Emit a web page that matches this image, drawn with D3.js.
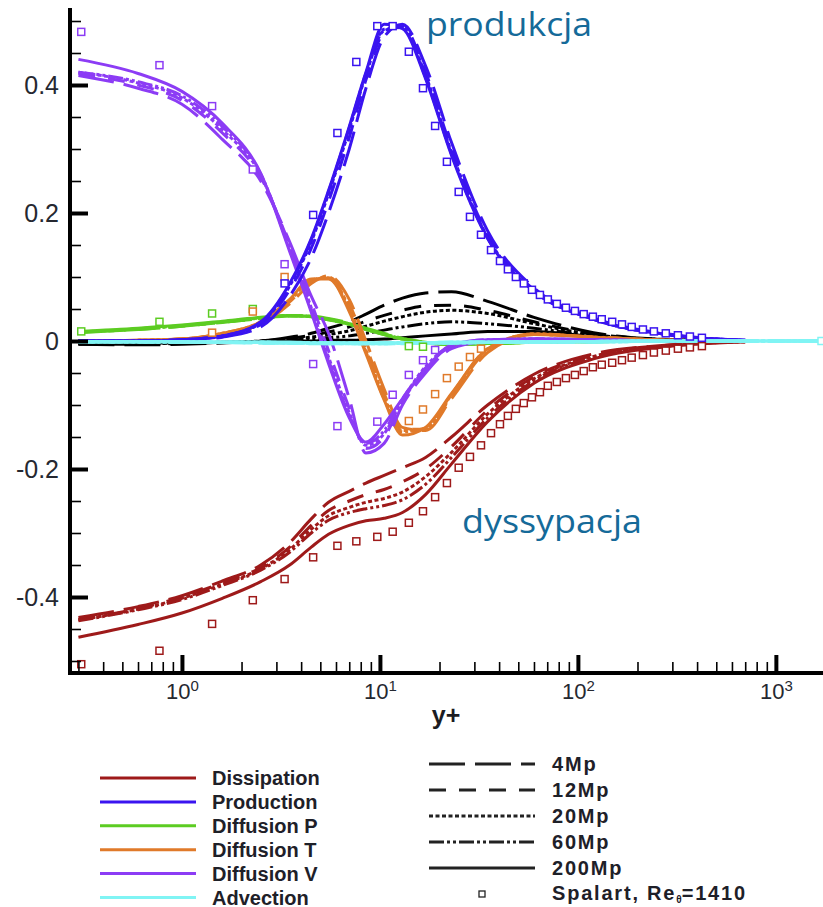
<!DOCTYPE html>
<html>
<head>
<meta charset="utf-8">
<script src="https://cdn.jsdelivr.net/npm/d3@7"></script>
<style>
  body { margin: 0; background: #fff; }
  svg { display: block; }
</style>
</head>
<body>
<div id="chart"></div>
<script>
// model curves are sampled on this y+ grid
var YPLUS = [0.3, 0.6, 1, 1.6, 2.5, 3.5, 4.5, 5.5, 7, 8.5, 10.5, 13, 17, 23, 35, 60, 120, 300, 700];
var ADV_YPLUS = [0.3, 0.6, 1, 1.6, 2.5, 3.5, 4.5, 5.5, 7, 8.5, 10.5, 13, 17, 23, 35, 60, 120, 300, 700, 1700];
var RESOLUTIONS = ["4Mp", "12Mp", "20Mp", "60Mp", "200Mp"];

// one row per resolution, same order as RESOLUTIONS
var DISSIPATION = [
  [-0.432, -0.415, -0.398, -0.375, -0.35, -0.315, -0.278, -0.252, -0.235, -0.222, -0.21, -0.198, -0.182, -0.15, -0.1, -0.052, -0.02, -0.006, -0.001],
  [-0.435, -0.418, -0.4, -0.378, -0.354, -0.322, -0.288, -0.265, -0.25, -0.24, -0.232, -0.22, -0.2, -0.165, -0.108, -0.056, -0.022, -0.006, -0.001],
  [-0.436, -0.419, -0.402, -0.38, -0.356, -0.326, -0.294, -0.273, -0.26, -0.252, -0.246, -0.236, -0.212, -0.174, -0.114, -0.059, -0.024, -0.007, -0.001],
  [-0.437, -0.42, -0.404, -0.382, -0.358, -0.33, -0.3, -0.28, -0.268, -0.262, -0.257, -0.248, -0.224, -0.182, -0.12, -0.062, -0.025, -0.007, -0.001],
  [-0.463, -0.443, -0.425, -0.402, -0.376, -0.35, -0.322, -0.302, -0.288, -0.281, -0.277, -0.268, -0.24, -0.192, -0.126, -0.066, -0.028, -0.008, -0.001]
];
var PRODUCTION = [
  [0, 0, 0.001, 0.006, 0.022, 0.07, 0.13, 0.2, 0.3, 0.395, 0.475, 0.495, 0.43, 0.31, 0.172, 0.083, 0.036, 0.01, 0.001],
  [0, 0, 0.002, 0.007, 0.026, 0.08, 0.145, 0.218, 0.318, 0.408, 0.482, 0.492, 0.42, 0.3, 0.166, 0.08, 0.035, 0.009, 0.001],
  [0, 0, 0.002, 0.008, 0.028, 0.086, 0.155, 0.23, 0.33, 0.416, 0.485, 0.49, 0.415, 0.295, 0.162, 0.079, 0.034, 0.009, 0.001],
  [0, 0, 0.002, 0.008, 0.029, 0.088, 0.158, 0.233, 0.333, 0.418, 0.487, 0.49, 0.412, 0.292, 0.161, 0.078, 0.034, 0.009, 0.001],
  [0, 0, 0.002, 0.008, 0.03, 0.09, 0.16, 0.235, 0.335, 0.42, 0.495, 0.488, 0.41, 0.29, 0.16, 0.078, 0.034, 0.009, 0.001]
];
var DIFFUSION_P = [
  [0.013, 0.018, 0.023, 0.029, 0.035, 0.039, 0.039, 0.035, 0.028, 0.02, 0.012, 0.004, -0.002, -0.005, -0.004, -0.002, -0.001, 0, 0],
  [0.014, 0.018, 0.023, 0.029, 0.035, 0.039, 0.038, 0.034, 0.027, 0.019, 0.011, 0.004, -0.002, -0.005, -0.004, -0.002, -0.001, 0, 0],
  [0.014, 0.019, 0.024, 0.03, 0.036, 0.04, 0.038, 0.034, 0.027, 0.019, 0.011, 0.003, -0.003, -0.005, -0.004, -0.002, -0.001, 0, 0],
  [0.014, 0.019, 0.024, 0.03, 0.036, 0.04, 0.038, 0.033, 0.026, 0.018, 0.01, 0.003, -0.003, -0.005, -0.004, -0.002, -0.001, 0, 0],
  [0.015, 0.02, 0.025, 0.031, 0.037, 0.04, 0.038, 0.033, 0.026, 0.018, 0.01, 0.003, -0.003, -0.005, -0.004, -0.002, -0.001, 0, 0]
];
var DIFFUSION_T = [
  [0, 0.001, 0.003, 0.01, 0.026, 0.058, 0.09, 0.102, 0.065, 0.0, -0.075, -0.135, -0.14, -0.09, -0.018, 0.01, 0.006, 0.001, 0],
  [0, 0.001, 0.003, 0.011, 0.028, 0.061, 0.093, 0.1, 0.058, -0.008, -0.082, -0.138, -0.138, -0.086, -0.015, 0.01, 0.006, 0.001, 0],
  [0, 0.001, 0.003, 0.011, 0.029, 0.063, 0.095, 0.099, 0.052, -0.014, -0.087, -0.14, -0.137, -0.084, -0.013, 0.011, 0.006, 0.001, 0],
  [0, 0.001, 0.003, 0.012, 0.03, 0.064, 0.096, 0.098, 0.049, -0.017, -0.09, -0.142, -0.136, -0.083, -0.012, 0.011, 0.006, 0.001, 0],
  [0, 0.001, 0.003, 0.012, 0.03, 0.065, 0.097, 0.097, 0.046, -0.02, -0.092, -0.147, -0.135, -0.082, -0.012, 0.011, 0.006, 0.001, 0]
];
var DIFFUSION_V = [
  [0.415, 0.395, 0.37, 0.315, 0.25, 0.155, 0.07, 0.012, -0.09, -0.175, -0.16, -0.1, -0.05, -0.012, 0, 0.003, 0.002, 0, 0],
  [0.418, 0.4, 0.376, 0.325, 0.256, 0.15, 0.06, -0.015, -0.105, -0.168, -0.15, -0.095, -0.042, -0.009, 0.001, 0.003, 0.002, 0, 0],
  [0.42, 0.403, 0.38, 0.33, 0.259, 0.146, 0.052, -0.025, -0.112, -0.163, -0.145, -0.092, -0.04, -0.008, 0.001, 0.003, 0.002, 0, 0],
  [0.42, 0.405, 0.383, 0.335, 0.261, 0.143, 0.048, -0.03, -0.116, -0.16, -0.14, -0.09, -0.044, -0.007, 0.002, 0.003, 0.002, 0, 0],
  [0.44, 0.418, 0.39, 0.34, 0.262, 0.14, 0.045, -0.035, -0.12, -0.158, -0.13, -0.09, -0.045, -0.006, 0.002, 0.003, 0.002, 0, 0]
];
var ADVECTION = [
  [-0.001, -0.001, -0.002, -0.002, -0.003, -0.003, -0.004, -0.004, -0.004, -0.004, -0.004, -0.004, -0.003, -0.003, -0.002, -0.002, -0.001, 0, 0, 0],
  [-0.001, -0.001, -0.002, -0.002, -0.003, -0.003, -0.003, -0.004, -0.004, -0.004, -0.004, -0.004, -0.003, -0.003, -0.002, -0.002, -0.001, 0, 0, 0],
  [-0.001, -0.001, -0.002, -0.002, -0.002, -0.003, -0.003, -0.003, -0.004, -0.004, -0.004, -0.003, -0.003, -0.003, -0.002, -0.001, -0.001, 0, 0, 0],
  [-0.001, -0.001, -0.001, -0.002, -0.002, -0.003, -0.003, -0.003, -0.003, -0.004, -0.003, -0.003, -0.003, -0.002, -0.002, -0.001, -0.001, 0, 0, 0],
  [-0.001, -0.001, -0.001, -0.002, -0.002, -0.002, -0.003, -0.003, -0.003, -0.003, -0.003, -0.003, -0.003, -0.002, -0.002, -0.001, -0.001, 0, 0, 0]
];
// black curves (not in the legend)
var BLACK_TERM = [
  [-0.005, -0.006, -0.005, -0.003, 0, 0.006, 0.012, 0.02, 0.03, 0.042, 0.056, 0.067, 0.075, 0.077, 0.062, 0.037, 0.013, 0.002, 0],
  [-0.005, -0.005, -0.004, -0.002, 0, 0.004, 0.009, 0.014, 0.022, 0.031, 0.04, 0.048, 0.055, 0.056, 0.048, 0.03, 0.011, 0.002, 0],
  [-0.004, -0.004, -0.003, -0.002, 0, 0.003, 0.006, 0.01, 0.016, 0.023, 0.031, 0.038, 0.045, 0.048, 0.043, 0.027, 0.01, 0.002, 0],
  [-0.004, -0.004, -0.003, -0.002, -0.001, 0.001, 0.003, 0.005, 0.008, 0.012, 0.017, 0.022, 0.027, 0.03, 0.027, 0.02, 0.008, 0.001, 0],
  [-0.003, -0.003, -0.003, -0.002, -0.001, 0, 0, 0.001, 0.001, 0.002, 0.003, 0.005, 0.008, 0.011, 0.015, 0.015, 0.007, 0.001, 0]
];

// Spalart DNS, Re_theta = 1410 (null = point not visible)
var SP_YPLUS = [0.31, 0.77, 1.42, 2.28, 3.3, 4.6, 6.1, 7.6, 9.7, 11.6, 14, 16.5, 19, 21.8, 25, 28.5, 32.4, 36.4, 40.4, 44.3, 48.6, 53.3, 58.6, 64.3, 70.5, 78.3, 87, 96.6, 107, 119, 132, 149, 167, 187, 213, 242, 278, 320, 368, 423, 1700];
var SP_DISSIPATION = [-0.505, -0.484, -0.442, -0.405, -0.372, -0.338, -0.32, -0.313, -0.306, -0.298, -0.284, -0.266, -0.244, -0.222, -0.198, -0.181, -0.163, -0.144, -0.13, -0.117, -0.106, -0.097, -0.088, -0.08, -0.07, -0.064, -0.058, -0.053, -0.047, -0.041, -0.037, -0.034, -0.03, -0.026, -0.022, -0.018, -0.015, -0.012, -0.01, -0.008, null];
var SP_PRODUCTION = [null, null, null, null, 0.09, 0.197, 0.325, 0.436, 0.492, 0.492, 0.452, 0.395, 0.336, 0.28, 0.233, 0.194, 0.166, 0.142, 0.125, 0.112, 0.1, 0.09, 0.08, 0.072, 0.065, 0.058, 0.052, 0.047, 0.042, 0.038, 0.034, 0.03, 0.026, 0.022, 0.018, 0.015, 0.012, 0.009, 0.007, 0.005, null];
var SP_DIFFUSION_P = [0.015, 0.03, 0.043, 0.05, null, null, null, null, null, null, -0.008, -0.009, null, null, null, null, null, null, null, null, null, null, null, null, null, null, null, null, null, null, null, null, null, null, null, null, null, null, null, null, null];
var SP_DIFFUSION_T = [null, null, 0.013, 0.046, 0.1, null, null, null, null, null, -0.125, -0.107, -0.083, -0.058, -0.04, -0.025, -0.012, null, null, null, null, null, null, null, null, null, null, null, null, null, null, null, null, null, null, null, null, null, null, null, null];
var SP_DIFFUSION_V = [0.483, 0.431, 0.367, 0.268, 0.12, -0.036, -0.133, null, -0.126, -0.084, -0.053, -0.03, -0.014, null, null, null, null, null, null, null, null, null, null, null, null, null, null, null, null, null, null, null, null, null, null, null, null, null, null, null, null];
var SP_ADVECTION = [null, null, null, null, null, null, null, null, null, null, null, null, null, null, null, null, null, null, null, null, null, null, null, null, null, null, null, null, null, null, null, null, null, null, null, null, null, null, null, null, 0];

var Y_TICKS = [-0.4, -0.2, 0, 0.2, 0.4];
var X_TICKS = [1, 10, 100, 1000];

// ---- styles
var width = 823, height = 907;
var dashes = { "4Mp": "36,10", "12Mp": "17,13", "20Mp": "4,2.5", "60Mp": "15,3,3,3,3,3", "200Mp": null };

var terms = [
  { name: null, color: "#000000", x: YPLUS, rows: BLACK_TERM, sp: null, w: 3 },
  { name: "Dissipation", color: "#9e1a1a", x: YPLUS, rows: DISSIPATION, sp: SP_DISSIPATION, w: 3 },
  { name: "Diffusion P", color: "#5ccc22", x: YPLUS, rows: DIFFUSION_P, sp: SP_DIFFUSION_P, w: 3 },
  { name: "Diffusion T", color: "#e07a2a", x: YPLUS, rows: DIFFUSION_T, sp: SP_DIFFUSION_T, w: 3 },
  { name: "Diffusion V", color: "#8c3cf5", x: YPLUS, rows: DIFFUSION_V, sp: SP_DIFFUSION_V, w: 3 },
  { name: "Production", color: "#3a14f0", x: YPLUS, rows: PRODUCTION, sp: SP_PRODUCTION, w: 3 },
  { name: "Advection", color: "#80f4f4", x: ADV_YPLUS, rows: ADVECTION, sp: SP_ADVECTION, w: 3.5 }
];
var legendOrder = ["Dissipation", "Production", "Diffusion P", "Diffusion T", "Diffusion V", "Advection"];

var svg = d3.select("#chart").append("svg")
  .attr("width", width)
  .attr("height", height)
  .style("font-family", "'Liberation Sans', Arial, sans-serif");

var x = d3.scaleLog().domain([0.272, 1730]).range([70, 823]);
var y = d3.scaleLinear().domain([-0.52, 0.52]).range([673.8, 8.2]);

svg.append("clipPath").attr("id", "plot-clip")
  .append("rect").attr("x", 70).attr("y", 0).attr("width", 760).attr("height", 674);

var line = d3.line()
  .defined(function(d) { return d[1] != null; })
  .x(function(d) { return x(d[0]); })
  .y(function(d) { return y(d[1]); })
  .curve(d3.curveMonotoneX);

var plot = svg.append("g").attr("clip-path", "url(#plot-clip)");

// curves
terms.forEach(function(term) {
  term.rows.forEach(function(row, i) {
    var pts = row.map(function(v, j) { return [term.x[j], v]; });
    plot.append("path")
      .attr("d", line(pts))
      .attr("fill", "none")
      .attr("stroke", term.color)
      .attr("stroke-width", term.w)
      .attr("stroke-dasharray", dashes[RESOLUTIONS[i]]);
  });
});

// Spalart squares
terms.forEach(function(term) {
  if (!term.sp) return;
  var pts = term.sp.map(function(v, j) { return [SP_YPLUS[j], v]; })
    .filter(function(d) { return d[1] != null; });
  plot.selectAll(null)
    .data(pts)
    .enter()
    .append("rect")
    .attr("x", function(d) { return x(d[0]) - 3.5; })
    .attr("y", function(d) { return y(d[1]) - 3.5; })
    .attr("width", 7)
    .attr("height", 7)
    .attr("fill", "#fff")
    .attr("stroke", term.color)
    .attr("stroke-width", 1.5);
});

// ---- axes
var yMinor = d3.range(-0.5, 0.51, 0.05).map(function(v) { return Math.round(v * 100) / 100; })
  .filter(function(v) { return Y_TICKS.indexOf(v) < 0; });

svg.append("g")
  .attr("transform", "translate(70,0)")
  .call(d3.axisLeft(y).tickValues(yMinor).tickSizeInner(-11).tickSizeOuter(0).tickFormat(""))
  .call(function(g) {
    g.select(".domain").remove();
    g.selectAll(".tick line").attr("stroke-width", 1.6);
  });

svg.append("g")
  .attr("transform", "translate(70,0)")
  .call(d3.axisLeft(y).tickValues(Y_TICKS).tickSizeInner(-18).tickSizeOuter(0).tickPadding(11)
    .tickFormat(function(d) { return String(d); }))
  .call(function(g) {
    g.select(".domain").remove();
    g.selectAll(".tick line").attr("stroke-width", 4);
    g.selectAll(".tick text")
      .attr("font-size", 25)
      .attr("fill", "#252830")
      .style("font-family", "'Liberation Sans', Arial, sans-serif");
  });

var xMinor = [];
[0.1, 1, 10, 100, 1000].forEach(function(dec) {
  for (var k = 2; k <= 9; k++) xMinor.push(dec * k);
});
xMinor = xMinor.filter(function(v) { return v > 0.27 && v < 1730; });

svg.append("g")
  .attr("transform", "translate(0,673)")
  .call(d3.axisBottom(x).tickValues(xMinor).tickSizeInner(-11).tickSizeOuter(0).tickFormat(""))
  .call(function(g) {
    g.select(".domain").remove();
    g.selectAll(".tick line").attr("stroke-width", 1.6);
  });

svg.append("g")
  .attr("transform", "translate(0,673)")
  .call(d3.axisBottom(x).tickValues(X_TICKS).tickSizeInner(-18).tickSizeOuter(0).tickPadding(10))
  .call(function(g) {
    g.select(".domain").remove();
    g.selectAll(".tick line").attr("stroke-width", 4);
    g.selectAll(".tick text")
      .attr("font-size", 22)
      .attr("fill", "#252830")
      .style("font-family", "'Liberation Sans', Arial, sans-serif")
      .text(null)
      .each(function(d) {
        var t = d3.select(this);
        t.append("tspan").text("10");
        t.append("tspan").attr("dy", -8).attr("font-size", 15).text(Math.round(Math.log10(d)));
      });
  });

// spines
svg.append("line").attr("x1", 70).attr("x2", 70).attr("y1", 8).attr("y2", 675)
  .attr("stroke", "#000").attr("stroke-width", 4);
svg.append("line").attr("x1", 68).attr("x2", 823).attr("y1", 673).attr("y2", 673)
  .attr("stroke", "#000").attr("stroke-width", 4);

svg.append("text")
  .attr("x", 446).attr("y", 724)
  .attr("text-anchor", "middle")
  .attr("font-size", 25)
  .attr("font-weight", "bold")
  .attr("fill", "#1c1c22")
  .text("y+");

// annotations
svg.append("text")
  .attr("x", 426).attr("y", 36)
  .attr("font-family", "'Open Sans', 'Noto Sans', sans-serif")
  .attr("font-size", 33)
  .attr("fill", "#156a99")
  .attr("textLength", 166)
  .attr("lengthAdjust", "spacingAndGlyphs")
  .text("produkcja");

svg.append("text")
  .attr("x", 462).attr("y", 533)
  .attr("font-family", "'Open Sans', 'Noto Sans', sans-serif")
  .attr("font-size", 33)
  .attr("fill", "#156a99")
  .attr("textLength", 180)
  .attr("lengthAdjust", "spacingAndGlyphs")
  .text("dyssypacja");

// ---- legend: terms
var legTerms = svg.append("g");
legendOrder.forEach(function(name, i) {
  var term = terms.filter(function(t) { return t.name === name; })[0];
  var ly = 778 + i * 23.9;
  legTerms.append("line")
    .attr("x1", 100).attr("x2", 196).attr("y1", ly).attr("y2", ly)
    .attr("stroke", term.color).attr("stroke-width", 3);
  legTerms.append("text")
    .attr("x", 212).attr("y", ly + 7)
    .attr("font-size", 20).attr("font-weight", "bold")
    .attr("fill", "#1e2028")
    .text(name);
});

// ---- legend: resolutions
var legRes = svg.append("g");
RESOLUTIONS.forEach(function(r, i) {
  var ly = 764 + i * 26;
  legRes.append("line")
    .attr("x1", 429).attr("x2", 535).attr("y1", ly).attr("y2", ly)
    .attr("stroke", "#222").attr("stroke-width", 3)
    .attr("stroke-dasharray", dashes[r]);
  legRes.append("text")
    .attr("x", 552).attr("y", ly + 7)
    .attr("font-size", 20).attr("font-weight", "bold")
    .attr("letter-spacing", 1.8)
    .attr("fill", "#1e2028")
    .text(r);
});
legRes.append("rect")
  .attr("x", 479).attr("y", 891).attr("width", 6).attr("height", 6)
  .attr("fill", "#fff").attr("stroke", "#222").attr("stroke-width", 1.3);
var sp = legRes.append("text")
  .attr("x", 552).attr("y", 900)
  .attr("font-size", 20).attr("font-weight", "bold")
  .attr("letter-spacing", 1.8)
  .attr("fill", "#1e2028");
sp.append("tspan").text("Spalart, Re");
sp.append("tspan").attr("dy", 3).attr("font-size", 10).attr("letter-spacing", 0).text("θ");
sp.append("tspan").attr("dy", -3).text("=1410");
</script>
</body>
</html>
